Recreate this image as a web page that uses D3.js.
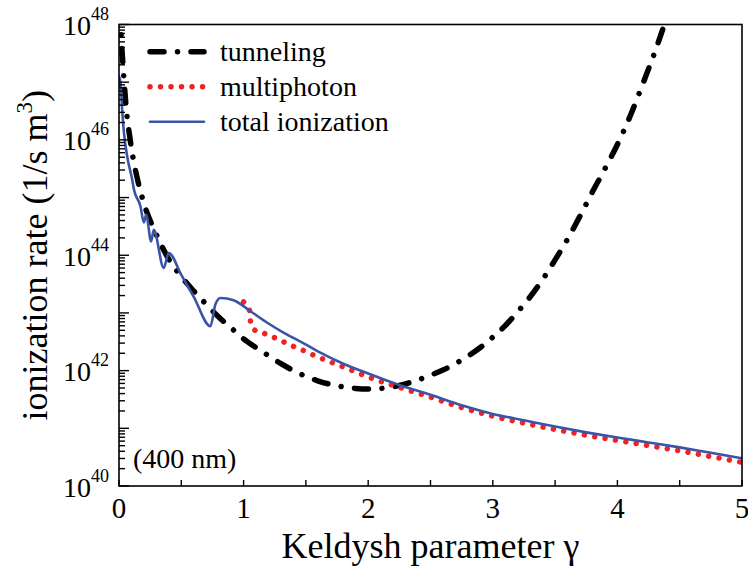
<!DOCTYPE html>
<html>
<head>
<meta charset="utf-8">
<script src="https://cdn.jsdelivr.net/npm/d3@7/dist/d3.min.js"></script>
<style>
  body { margin: 0; background: #fff; }
</style>
</head>
<body>
<div id="chart"></div>
<script>
// Keldysh parameter values and log10 of the rate (1/s m^3)
const TUN_G = [0.005, 0.02, 0.04, 0.06, 0.08, 0.1, 0.15, 0.2, 0.3, 0.4, 0.5, 0.6, 0.7, 0.8, 0.9, 1.0, 1.1, 1.2, 1.3, 1.4, 1.5, 1.6, 1.7, 1.8, 1.9, 2.0, 2.1, 2.2, 2.3, 2.4, 2.5, 2.6, 2.7, 2.8, 2.9, 3.0, 3.1, 3.2, 3.3, 3.4, 3.5, 3.6, 3.7, 3.8, 3.9, 4.0, 4.1, 4.2, 4.3, 4.4];
const TUN_LOG = [48.3, 47.7, 47.05, 46.5, 46.15, 45.85, 45.3, 44.9, 44.36, 43.93, 43.63, 43.38, 43.15, 42.93, 42.74, 42.55, 42.4, 42.26, 42.12, 42.0, 41.9, 41.82, 41.76, 41.72, 41.69, 41.68, 41.69, 41.72, 41.77, 41.84, 41.92, 42.01, 42.12, 42.25, 42.4, 42.58, 42.78, 43.02, 43.28, 43.58, 43.92, 44.28, 44.68, 45.1, 45.5, 45.92, 46.4, 46.95, 47.52, 48.15];

const MP_G = [1.0, 1.05, 1.055, 1.085, 1.17, 1.25, 1.33, 1.41, 1.49, 1.57, 1.72, 1.85, 2.0, 2.25, 2.5, 2.75, 3.0, 3.25, 3.5, 3.75, 4.0, 4.25, 4.5, 4.75, 5.0];
const MP_LOG = [43.19, 43.03, 42.86, 42.71, 42.64, 42.57, 42.49, 42.41, 42.34, 42.26, 42.13, 42.02, 41.89, 41.71, 41.54, 41.36, 41.21, 41.09, 40.98, 40.88, 40.79, 40.70, 40.61, 40.51, 40.41];

const TOT_G = [0, 0.012, 0.026, 0.04, 0.066, 0.106, 0.12, 0.172, 0.199, 0.218, 0.258, 0.279, 0.359, 0.399, 0.5, 0.6, 0.734, 0.774, 0.814, 0.92, 1.055, 1.19, 1.32, 1.46, 1.6, 1.8, 2.0, 2.25, 2.5, 2.75, 3.0, 3.25, 3.5, 3.75, 4.0, 4.25, 4.5, 4.75, 5.0];
const TOT_LOG = [47.1, 47.0, 46.5, 46.12, 45.71, 45.31, 45.14, 44.85, 44.57, 44.7, 44.24, 44.44, 43.78, 44.04, 43.66, 43.28, 42.77, 43.15, 43.26, 43.22, 43.03, 42.83, 42.66, 42.5, 42.33, 42.12, 41.95, 41.75, 41.58, 41.4, 41.25, 41.14, 41.03, 40.93, 40.84, 40.755, 40.67, 40.575, 40.48];

const X_TICKS = [0, 1, 2, 3, 4, 5];
const X_MINOR = [0.5, 1.5, 2.5, 3.5, 4.5];
const Y_DECADES = [40, 41, 42, 43, 44, 45, 46, 47, 48];
const Y_LABELED = [40, 42, 44, 46, 48];

const SERIES = [
  { name: 'tunneling', g: TUN_G, v: TUN_LOG, color: '#000', width: 5.5, dash: '14 13.5 0.01 13.5' },
  { name: 'multiphoton', g: MP_G, v: MP_LOG, color: '#ee2424', width: 5.5, dash: '0.01 10.5' },
  { name: 'total ionization', g: TOT_G, v: TOT_LOG, color: '#3a54a6', width: 2.6, dash: null }
];

const FONT = '"Liberation Serif", serif';
const W = 748, H = 568, M = { t: 24.5, r: 6, b: 82, l: 119 };
const svg = d3.select('#chart').append('svg').attr('width', W).attr('height', H);

const x = d3.scaleLinear().domain([0, 5]).range([M.l, W - M.r]);
const y = d3.scaleLog().domain([1e40, 1e48]).range([H - M.b, M.t]);

svg.append('clipPath').attr('id', 'clip').append('rect')
  .attr('x', x(0)).attr('y', y(1e48)).attr('width', x(5) - x(0)).attr('height', y(1e40) - y(1e48));

// lines
const line = d3.line().x(d => x(d[0])).y(d => y(Math.pow(10, d[1]))).curve(d3.curveMonotoneX);
const gLines = svg.append('g').attr('clip-path', 'url(#clip)').attr('fill', 'none');
SERIES.forEach(s => {
  gLines.append('path').datum(s.g.map((g, i) => [g, s.v[i]]))
    .attr('d', line).attr('stroke', s.color).attr('stroke-width', s.width)
    .attr('stroke-linecap', 'round').attr('stroke-linejoin', 'round')
    .attr('stroke-dasharray', s.dash);
});

// frame
const frame = svg.append('g').attr('stroke', '#000').attr('stroke-width', 1.6).attr('fill', 'none');
frame.append('rect').attr('x', x(0)).attr('y', y(1e48)).attr('width', x(5) - x(0)).attr('height', y(1e40) - y(1e48));

// y ticks (inward): decades + 2..9 minor
const yTicks = [];
Y_DECADES.forEach(e => {
  yTicks.push({ v: Math.pow(10, e), len: 10 });
  if (e < 48) for (let k = 2; k <= 9; k++) yTicks.push({ v: k * Math.pow(10, e), len: 6 });
});
frame.selectAll('line.yt').data(yTicks).enter().append('line')
  .attr('x1', x(0)).attr('x2', d => x(0) + d.len)
  .attr('y1', d => y(d.v)).attr('y2', d => y(d.v)).attr('stroke-width', 1.4);

// x ticks (inward)
frame.selectAll('line.xt').data(X_TICKS.concat(X_MINOR)).enter().append('line')
  .attr('x1', d => x(d)).attr('x2', d => x(d))
  .attr('y1', y(1e40)).attr('y2', y(1e40) - 6).attr('stroke-width', 1.4);

// tick labels
svg.append('g').selectAll('text').data(X_TICKS).enter().append('text')
  .attr('x', d => x(d)).attr('y', y(1e40) + 32).attr('text-anchor', 'middle')
  .style('font-family', FONT).style('font-size', '29px').text(d => d);

const yl = svg.append('g').selectAll('text').data(Y_LABELED).enter().append('text')
  .attr('x', x(0) - 10).attr('y', d => y(Math.pow(10, d)) + 10.5).attr('text-anchor', 'end')
  .style('font-family', FONT).style('font-size', '28px');
yl.append('tspan').text('10');
yl.append('tspan').attr('dy', -15).style('font-size', '18px').text(d => d);

// axis titles
svg.append('text').attr('x', (x(0) + x(5)) / 2).attr('y', 558).attr('text-anchor', 'middle')
  .style('font-family', FONT).style('font-size', '36px').text('Keldysh parameter γ');
const yt = svg.append('text').attr('transform', `translate(47,${(y(1e40) + y(1e48)) / 2}) rotate(-90)`)
  .attr('text-anchor', 'middle').style('font-family', FONT).style('font-size', '36px');
yt.append('tspan').text('ionization rate (1/s m');
yt.append('tspan').attr('dy', -15).style('font-size', '23px').text('3');
yt.append('tspan').attr('dy', 15).text(')');

// annotation
svg.append('text').attr('x', 133).attr('y', 468).style('font-family', FONT).style('font-size', '28px').text('(400 nm)');

// legend
const lg = svg.append('g').selectAll('g').data(SERIES).enter().append('g')
  .attr('transform', (d, i) => `translate(0,${51.7 + i * 35})`);
lg.append('line').attr('x1', 150).attr('x2', 204).attr('y1', 0).attr('y2', 0)
  .attr('stroke', d => d.color).attr('stroke-width', d => d.width)
  .attr('stroke-linecap', 'round').attr('stroke-dasharray', d => d.dash);
lg.append('text').attr('x', 220).attr('y', 9.5).style('font-family', FONT).style('font-size', '28px').text(d => d.name);
</script>
</body>
</html>
